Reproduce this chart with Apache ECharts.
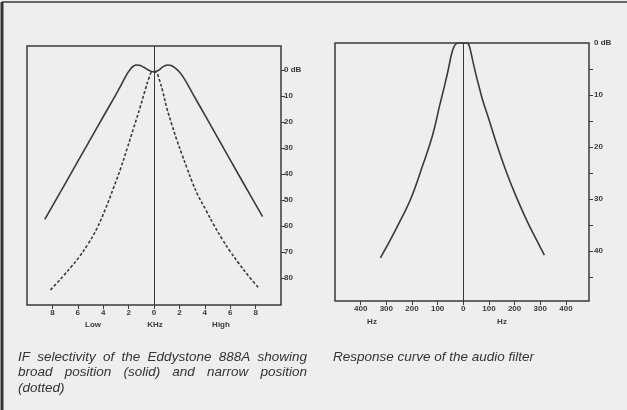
<!DOCTYPE html>
<html><head><meta charset="utf-8">
<script src="https://cdn.jsdelivr.net/npm/echarts@6/dist/echarts.min.js"></script>
<style>html,body{margin:0;padding:0;background:#eeeeec}#c{width:627px;height:410px}</style>
</head><body><div id="c"></div>
<script>
// IF selectivity (kHz offset, dB down)
const broadIF = [[-8.6,57.5],[-7,43.8],[-5,26.6],[-4,18],[-3,9.5],[-2.5,5],[-2.15,1.8],[-1.85,-0.4],[-1.6,-1.5],[-1.4,-1.9],[-1.15,-1.8],[-0.8,-1.0],[-0.45,0],[-0.1,0.7],[0.3,0.3],[0.6,-0.8],[0.85,-1.6],[1.07,-1.9],[1.35,-1.7],[1.65,-0.8],[1.95,0.5],[2.25,2.4],[2.6,5.2],[3,8.7],[4,17.3],[5,25.9],[7,43.2],[8.55,56.4]];
const narrowIF = [[-8.15,84.6],[-7.5,81.2],[-7.1,79],[-6.5,75.6],[-5.9,72],[-5.2,67],[-4.5,61],[-3.8,53.2],[-3.2,45.5],[-2.6,37.5],[-2.1,30],[-1.6,22.3],[-1.1,14.5],[-0.7,7.8],[-0.4,3.2],[-0.15,0.9],[0.15,0.9],[0.4,3.5],[0.7,8.5],[1.0,14.5],[1.4,21],[1.8,27],[2.2,32.5],[2.6,37.8],[3.0,43],[3.5,48.6],[4.1,54],[4.7,59.5],[5.4,65.3],[6.0,69.8],[6.7,74.5],[7.4,79],[8.2,83.6]];
const ifTicks = [-8,-6,-4,-2,0,2,4,6,8];
const ifDbTicks = [0,10,20,30,40,50,60,70,80];
// Audio filter response (Hz offset, dB down)
const audio = [[-323,41.3],[-290,38.4],[-250,34.6],[-205,30],[-160,23.8],[-120,17.8],[-92,12],[-72,8],[-58,5],[-48,2.6],[-38,0.9],[-28,0.15],[-20,0],[0,0],[12,0],[20,0.2],[27,1.2],[36,3.2],[48,5.8],[62,8.5],[78,11.4],[100,14.7],[130,19.4],[165,24.4],[205,29.4],[250,34.4],[290,38.3],[316,40.8]];
const audioTicks = [-400,-300,-200,-100,0,100,200,300,400];
const audioDbLabels = [0,10,20,30,40];
const audioDbTicks = [5,10,15,20,25,30,35,40,45];
const captionLeft = ['IF selectivity of the Eddystone 888A showing', 'broad position (solid) and narrow position', '(dotted)'];
const captionRight = 'Response curve of the audio filter';

const ink = '#3a3a3a';
const lblFont = {color: ink, fontSize: 8, fontWeight: 'bold', fontFamily: 'Liberation Sans'};
const capFont = 'italic 13.5px Liberation Sans';
const dbFmt = v => v === 0 ? '0 dB' : String(v);
const absFmt = v => String(Math.abs(v));
const centerLine = {silent: true, symbol: 'none', label: {show: false},
  lineStyle: {color: ink, type: 'solid', width: 1}, data: [{xAxis: 0}]};

// justified caption lines (word positions computed from measured widths)
const ctx = document.createElement('canvas').getContext('2d');
ctx.font = capFont;
function justified(text, x, y, width) {
  const words = text.split(' ');
  const ws = words.map(w => ctx.measureText(w).width);
  const gap = (width - ws.reduce((a, b) => a + b, 0)) / (words.length - 1);
  let cx = x;
  return words.map((w, i) => {
    const el = {type: 'text', x: cx, y: y, style: {text: w, verticalAlign: 'middle', fill: '#333', font: capFont}};
    cx += ws[i] + gap;
    return el;
  });
}
const txt = (t, x, y) => ({type: 'text', x: x, y: y, style: {text: t, align: 'center', verticalAlign: 'middle', fill: ink, font: 'bold 8px Liberation Sans'}});

const chart = echarts.init(document.getElementById('c'));
chart.setOption({
  backgroundColor: '#eeeeec',
  animation: false,
  grid: [
    {left: 27, top: 46, width: 254, height: 259, show: true, borderColor: ink, borderWidth: 1.5, backgroundColor: 'transparent'},
    {left: 335, top: 43, width: 254, height: 258, show: true, borderColor: ink, borderWidth: 1.5, backgroundColor: 'transparent'}
  ],
  xAxis: [
    {gridIndex: 0, type: 'value', position: 'bottom', min: -10, max: 10, splitLine: {show: false}, axisLine: {show: false, onZero: false},
     axisTick: {show: true, length: 4, lineStyle: {color: ink}, customValues: ifTicks},
     axisLabel: Object.assign({margin: 4, formatter: absFmt, customValues: ifTicks}, lblFont)},
    {gridIndex: 1, type: 'value', position: 'bottom', min: -500, max: 490, splitLine: {show: false}, axisLine: {show: false, onZero: false},
     axisTick: {show: true, length: 4, lineStyle: {color: ink}, customValues: audioTicks},
     axisLabel: Object.assign({margin: 4, formatter: absFmt, customValues: audioTicks}, lblFont)}
  ],
  yAxis: [
    {gridIndex: 0, type: 'value', inverse: true, min: -9.2, max: 90.4, position: 'right', splitLine: {show: false}, axisLine: {show: false, onZero: false},
     axisTick: {show: true, length: 4, lineStyle: {color: ink}, customValues: ifDbTicks},
     axisLabel: Object.assign({margin: 3, formatter: dbFmt, customValues: ifDbTicks}, lblFont)},
    {gridIndex: 1, type: 'value', inverse: true, min: 0, max: 49.6, position: 'right', splitLine: {show: false}, axisLine: {show: false, onZero: false},
     axisTick: {show: true, length: 4, lineStyle: {color: ink}, customValues: audioDbTicks},
     axisLabel: Object.assign({margin: 5, formatter: dbFmt, customValues: audioDbLabels}, lblFont)}
  ],
  series: [
    {type: 'line', xAxisIndex: 0, yAxisIndex: 0, data: broadIF, smooth: 0.4, symbol: 'none',
     lineStyle: {color: ink, width: 1.6}, markLine: centerLine},
    {type: 'line', xAxisIndex: 0, yAxisIndex: 0, data: narrowIF, smooth: 0.4, symbol: 'none',
     lineStyle: {color: ink, width: 1.6, type: [3, 2]}},
    {type: 'line', xAxisIndex: 1, yAxisIndex: 1, data: audio, smooth: 0.4, symbol: 'none',
     lineStyle: {color: ink, width: 1.6}, markLine: centerLine}
  ],
  graphic: [
    {type: 'line', shape: {x1: 2, y1: 2, x2: 627, y2: 2}, style: {stroke: '#666', lineWidth: 2}},
    {type: 'line', shape: {x1: 2, y1: 2, x2: 2, y2: 410}, style: {stroke: '#333', lineWidth: 3}},
    txt('Low', 93, 325), txt('KHz', 155, 325), txt('High', 221, 325),
    txt('Hz', 372, 322), txt('Hz', 502, 322)
  ].concat(
    justified(captionLeft[0], 18, 357, 289),
    justified(captionLeft[1], 18, 372, 289),
    [{type: 'text', x: 18, y: 388, style: {text: captionLeft[2], verticalAlign: 'middle', fill: '#333', font: capFont}},
     {type: 'text', x: 333, y: 357, style: {text: captionRight, verticalAlign: 'middle', fill: '#333', font: capFont}}]
  )
});
</script></body></html>
